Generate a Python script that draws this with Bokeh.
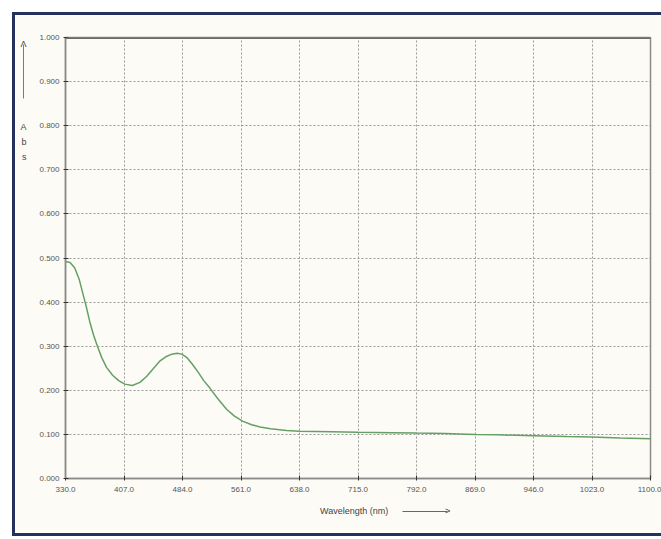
from bokeh.plotting import figure
from bokeh.models import FixedTicker, PrintfTickFormatter, LinearAxis, Span
from bokeh.embed import file_html
from bokeh.resources import INLINE

# Data
wavelength = [330, 336, 342, 348, 352, 357, 362, 367, 372, 378, 384, 392, 400, 408, 418,
              428, 437, 446, 454, 462, 470, 477, 483, 490, 497, 505, 512, 520, 530, 542,
              552, 563, 575, 586, 600, 621, 638, 680, 715, 760, 792, 830, 869, 900, 946,
              990, 1023, 1060, 1100]
absorbance = [0.492, 0.490, 0.478, 0.452, 0.425, 0.392, 0.355, 0.325, 0.300, 0.273, 0.252,
              0.234, 0.222, 0.214, 0.211, 0.218, 0.232, 0.250, 0.266, 0.276, 0.282, 0.284,
              0.282, 0.274, 0.259, 0.240, 0.222, 0.205, 0.182, 0.157, 0.142, 0.130, 0.122,
              0.117, 0.113, 0.109, 0.107, 0.106, 0.105, 0.104, 0.103, 0.102, 0.100, 0.099,
              0.097, 0.095, 0.094, 0.092, 0.090]
x_ticks = [330.0, 407.0, 484.0, 561.0, 638.0, 715.0, 792.0, 869.0, 946.0, 1023.0, 1100.0]
y_ticks = [0.0, 0.1, 0.2, 0.3, 0.4, 0.5, 0.6, 0.7, 0.8, 0.9, 1.0]
y_title_letters = ["A", "b", "s"]
y_title_pos = [0.796, 0.764, 0.730]
x_title = "Wavelength (nm)"
x_title_pos = 710.0
x_arrow_span = (773.0, 833.0)
y_arrow_span = (0.862, 0.985)

BG = "#fdfbf6"
FONT = "Liberation Sans"

p = figure(width=649, height=524, output_backend="svg", toolbar_location=None,
           x_range=(330, 1100), y_range=(0, 1.0),
           min_border_left=50, min_border_right=14, min_border_top=22, min_border_bottom=61,
           background_fill_color=BG, border_fill_color=BG)
p.margin = (12, 0, 0, 12)
p.styles = {"border-left": "3px solid #26305e", "border-top": "3px solid #26305e",
            "border-bottom": "3px solid #26305e", "box-sizing": "border-box"}

p.line(wavelength, absorbance, line_color="#64a064", line_width=1.5)

p.xaxis.ticker = FixedTicker(ticks=x_ticks)
p.yaxis.ticker = FixedTicker(ticks=y_ticks)
p.xaxis.formatter = PrintfTickFormatter(format="%.1f")
p.yaxis.formatter = PrintfTickFormatter(format="%.3f")
for ax in (p.xaxis, p.yaxis):
    ax.major_label_text_font = FONT
    ax.major_label_text_font_size = "8px"
    ax.major_label_text_color = "#555555"
    ax.axis_line_color = "#8a8a8a"
    ax.axis_line_width = 1.5
    ax.major_tick_line_color = "#333333"
    ax.major_tick_in = 3
    ax.major_tick_out = 2
    ax.minor_tick_line_color = None
    # blank axis titles used only as spacers
    ax.axis_label = " "
    ax.axis_label_text_font_size = "8px"
p.yaxis.major_label_standoff = 4
p.xaxis.major_label_standoff = 6
p.yaxis.axis_label_standoff = 1
p.xaxis.axis_label_standoff = 5

p.xgrid.grid_line_color = "#9a9a9a"
p.ygrid.grid_line_color = "#9a9a9a"
p.xgrid.grid_line_dash = "2 2"
p.ygrid.grid_line_dash = "2 2"

p.outline_line_color = "#8a8a8a"
p.outline_line_width = 1.5
p.add_layout(Span(location=1.0, dimension="width", line_color="#6a6a6a", line_width=3))

# Left: stacked "A b s" with an upward arrow (axis line = arrow shaft)
y_overrides = {v: t for v, t in zip(y_title_pos, y_title_letters)}
y_overrides[y_arrow_span[1]] = "Λ"
yt = LinearAxis(ticker=FixedTicker(ticks=list(y_title_pos) + [y_arrow_span[1]]),
                major_label_overrides=y_overrides, bounds=y_arrow_span,
                axis_line_color="#7a7a7a", axis_line_width=1,
                major_tick_line_color=None, minor_tick_line_color=None,
                major_tick_out=0, major_tick_in=0, major_label_standoff=-3,
                major_label_text_font=FONT, major_label_text_font_size="9px",
                major_label_text_color="#444444")
p.add_layout(yt, "left")

# Bottom: "Wavelength (nm)" with a rightward arrow (axis line = arrow shaft)
x_overrides = {x_title_pos: x_title, x_arrow_span[1]: ">"}
xt = LinearAxis(ticker=FixedTicker(ticks=[x_title_pos, x_arrow_span[1]]),
                major_label_overrides=x_overrides, bounds=x_arrow_span,
                axis_line_color="#666666", axis_line_width=1,
                major_tick_line_color=None, minor_tick_line_color=None,
                major_tick_out=0, major_tick_in=0, major_label_standoff=-6,
                major_label_text_font=FONT, major_label_text_font_size="9px",
                major_label_text_color="#444444")
p.add_layout(xt, "below")

open("out.html", "w").write(file_html(p, INLINE))
